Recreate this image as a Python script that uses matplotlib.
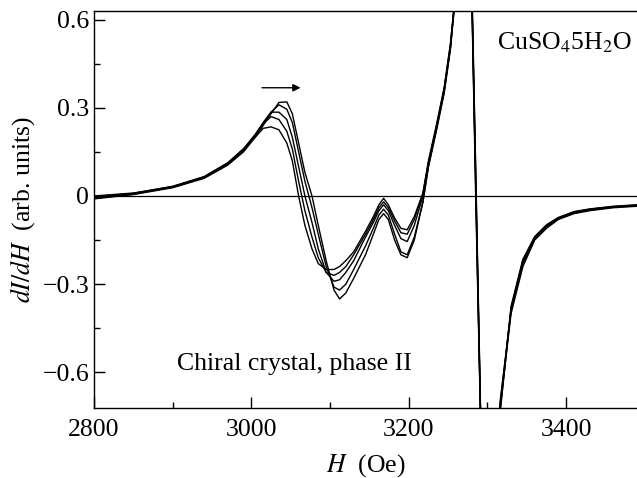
import numpy as np
import matplotlib.pyplot as plt
from matplotlib.ticker import MultipleLocator

plt.rcParams['font.family'] = 'Liberation Serif'
plt.rcParams['mathtext.fontset'] = 'stix'

# Field grid (Oe) shared by all traces
H = [2800, 2850, 2900, 2940, 2970, 2990, 3005, 3015, 3025, 3035, 3045, 3052,
     3060, 3068, 3077, 3085, 3095, 3105, 3112, 3120, 3130, 3145, 3155, 3162,
     3168, 3174, 3182, 3190, 3198, 3207, 3218, 3225, 3235, 3245, 3253, 3260,
     3270, 3280, 3285, 3291, 3300, 3310, 3316, 3330, 3345, 3360, 3375, 3390,
     3410, 3430, 3460, 3490]

# dI/dH traces (arb. units)
trace1 = [-0.010, 0.005, 0.028, 0.060, 0.105, 0.150, 0.200, 0.240, 0.280, 0.318, 0.320, 0.280,
          0.180, 0.080, 0.000, -0.100, -0.220, -0.320, -0.350, -0.330, -0.280, -0.200, -0.130, -0.080,
          -0.060, -0.080, -0.150, -0.200, -0.210, -0.150, -0.020, 0.100, 0.220, 0.350, 0.500, 0.700,
          1.600, 0.700, 0.050, -0.720, -1.600, -1.200, -0.720, -0.400, -0.240, -0.150, -0.110, -0.080,
          -0.060, -0.050, -0.040, -0.035]
trace2 = [-0.005, 0.008, 0.030, 0.062, 0.108, 0.155, 0.205, 0.245, 0.285, 0.310, 0.295, 0.250,
          0.150, 0.050, -0.040, -0.130, -0.240, -0.310, -0.320, -0.300, -0.250, -0.170, -0.110, -0.065,
          -0.045, -0.065, -0.130, -0.190, -0.200, -0.140, -0.020, 0.100, 0.225, 0.355, 0.505, 0.720,
          1.600, 0.740, 0.100, -0.700, -1.600, -1.200, -0.700, -0.390, -0.230, -0.145, -0.105, -0.078,
          -0.058, -0.048, -0.038, -0.033]
trace3 = [0.000, 0.010, 0.032, 0.065, 0.112, 0.160, 0.210, 0.250, 0.285, 0.285, 0.260, 0.200,
          0.100, 0.000, -0.090, -0.180, -0.260, -0.290, -0.285, -0.260, -0.220, -0.140, -0.090, -0.050,
          -0.030, -0.050, -0.100, -0.145, -0.155, -0.100, 0.000, 0.110, 0.230, 0.360, 0.510, 0.700,
          1.600, 0.680, 0.000, -0.740, -1.600, -1.200, -0.740, -0.380, -0.220, -0.140, -0.100, -0.075,
          -0.055, -0.045, -0.036, -0.031]
trace4 = [-0.008, 0.006, 0.030, 0.063, 0.110, 0.160, 0.208, 0.245, 0.270, 0.260, 0.220, 0.160,
          0.050, -0.050, -0.140, -0.210, -0.260, -0.270, -0.260, -0.240, -0.200, -0.130, -0.080, -0.040,
          -0.020, -0.040, -0.085, -0.125, -0.130, -0.080, 0.010, 0.115, 0.235, 0.365, 0.515, 0.720,
          1.600, 0.720, 0.080, -0.710, -1.600, -1.200, -0.710, -0.385, -0.225, -0.142, -0.102, -0.077,
          -0.057, -0.047, -0.037, -0.032]
trace5 = [-0.003, 0.009, 0.033, 0.066, 0.113, 0.160, 0.200, 0.230, 0.235, 0.225, 0.180, 0.120,
          0.000, -0.100, -0.180, -0.230, -0.250, -0.250, -0.240, -0.220, -0.190, -0.120, -0.070, -0.030,
          -0.008, -0.030, -0.075, -0.110, -0.115, -0.070, 0.010, 0.120, 0.240, 0.370, 0.520, 0.700,
          1.600, 0.700, 0.030, -0.730, -1.600, -1.200, -0.730, -0.375, -0.215, -0.138, -0.098, -0.073,
          -0.053, -0.044, -0.035, -0.030]

fig = plt.figure(figsize=(6.37, 4.78), dpi=100)
ax = fig.add_axes([94 / 637, 70.3 / 478, 1 - 94 / 637, 396.7 / 478])

for tr in [trace1, trace2, trace3, trace4, trace5]:
    ax.plot(H, tr, color='black', lw=1.0)

ax.axhline(0, color='black', lw=0.9)

ax.set_xlim(2800, 3490)
ax.set_ylim(-0.72, 0.629)
ax.xaxis.set_major_locator(MultipleLocator(200))
ax.xaxis.set_minor_locator(MultipleLocator(100))
ax.yaxis.set_minor_locator(MultipleLocator(0.15))
ax.set_yticks([-0.6, -0.3, 0, 0.3, 0.6])
ax.set_yticklabels(['\u22120.6', '\u22120.3', '0', '0.3', '0.6'])
ax.tick_params(which='both', direction='in', labelsize=18.5, width=1.0)
ax.tick_params(axis='x', which='major', pad=8)
ax.tick_params(which='major', length=8)
ax.tick_params(which='minor', length=4.5)
ax.spines['right'].set_visible(False)
for s in ['left', 'bottom', 'top']:
    ax.spines[s].set_linewidth(1.0)

ax.set_xlabel(r'$H$  (Oe)', fontsize=18.5, labelpad=8)
ax.set_ylabel(r'$dI/dH$  (arb. units)', fontsize=18.5, labelpad=4)

ax.annotate('', xy=(3066, 0.368), xytext=(3010, 0.368),
            arrowprops=dict(arrowstyle='-|>', color='black', lw=1.0, mutation_scale=11))
ax.text(3484, 0.52, r'CuSO$_4$5H$_2$O', fontsize=18.5, ha='right', va='center')
ax.text(2905, -0.572, 'Chiral crystal, phase II', fontsize=18.5, ha='left', va='center')

fig.savefig('out.png', dpi=100)
